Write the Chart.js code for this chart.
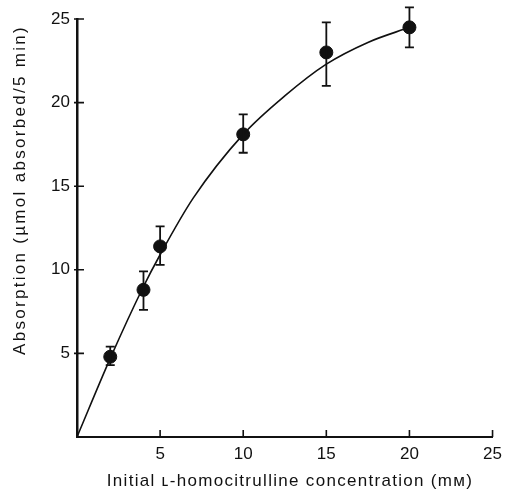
<!DOCTYPE html>
<html lang="en">
<head>
  <meta charset="UTF-8">
  <title>Absorption vs L-homocitrulline</title>

  <!-- Chart.js -->
  <script src="https://cdn.jsdelivr.net/npm/chart.js"></script>

  <style>
    * {
      margin: 0;
      padding: 0;
    }

    body {
      background: #fff;
    }

    canvas {
      display: block;
    }
  </style>
</head>

<body>
  <canvas id="absChart" width="509" height="497"></canvas>

  <script>
    // measured points (mM, umol absorbed / 5 min) with error bar ends
    const concentrations = [2, 4, 5, 10, 15, 20];
    const absorption = [4.8, 8.8, 11.4, 18.1, 23.0, 24.5];
    const errLow = [4.3, 7.6, 10.3, 17.0, 21.0, 23.3];
    const errHigh = [5.4, 9.9, 12.6, 19.3, 24.8, 25.7];

    // fitted curve
    const curveX = [0, 2, 4, 5, 7, 10, 12.5, 15, 17.5, 20];
    const curveY = [0, 4.7, 9.0, 10.9, 14.3, 18.1, 20.4, 22.3, 23.6, 24.5];

    const tickValues = [5, 10, 15, 20, 25];

    const xTitle = 'Initial \u029F-homocitrulline concentration (m\u1D0D)';
    const yTitle = 'Absorption (\u00B5mol absorbed/5 min)';

    const ink = '#111';

    // error bars, inward tick marks and axis titles
    const extras = {
      id: 'extras',
      afterDraw(chart) {
        const { ctx, scales: { x, y } } = chart;
        ctx.save();
        ctx.strokeStyle = ink;

        ctx.lineWidth = 1.8;
        ctx.beginPath();
        concentrations.forEach((c, i) => {
          const px = x.getPixelForValue(c);
          const top = y.getPixelForValue(errHigh[i]);
          const bot = y.getPixelForValue(errLow[i]);
          ctx.moveTo(px, top); ctx.lineTo(px, bot);
          ctx.moveTo(px - 4.5, top); ctx.lineTo(px + 4.5, top);
          ctx.moveTo(px - 4.5, bot); ctx.lineTo(px + 4.5, bot);
        });
        ctx.stroke();

        ctx.lineWidth = 1.6;
        ctx.beginPath();
        tickValues.forEach(v => {
          const px = x.getPixelForValue(v);
          ctx.moveTo(px, x.top); ctx.lineTo(px, x.top - 7);
          const py = y.getPixelForValue(v);
          ctx.moveTo(y.right - 3, py); ctx.lineTo(y.right + 7, py);
        });
        ctx.stroke();

        ctx.fillStyle = ink;
        ctx.font = '17px "Liberation Sans", Arial, sans-serif';
        ctx.textAlign = 'center';
        ctx.textBaseline = 'middle';

        ctx.letterSpacing = '1.3px';
        ctx.fillText(xTitle, 290, 481);

        ctx.letterSpacing = '2.3px';
        ctx.translate(20, 190);
        ctx.rotate(-Math.PI / 2);
        ctx.fillText(yTitle, 0, 0);
        ctx.restore();
      }
    };

    const ctx = document.getElementById('absChart').getContext('2d');
    const absChart = new Chart(ctx, {
      data: {
        datasets: [{
          type: 'line',
          data: curveX.map((v, i) => ({ x: v, y: curveY[i] })),
          borderColor: ink,
          borderWidth: 1.6,
          pointRadius: 0,
          cubicInterpolationMode: 'monotone',
          fill: false
        }, {
          type: 'scatter',
          data: concentrations.map((v, i) => ({ x: v, y: absorption[i] })),
          backgroundColor: ink,
          borderColor: ink,
          pointRadius: 6.5,
          pointHoverRadius: 6.5
        }]
      },
      plugins: [extras],
      options: {
        responsive: false,
        animation: false,
        events: [],
        layout: { padding: { top: 19, right: 13, left: 0, bottom: 0 } },
        plugins: {
          legend: { display: false },
          tooltip: { enabled: false }
        },
        scales: {
          x: {
            type: 'linear',
            min: 0,
            max: 25,
            afterBuildTicks: scale => { scale.ticks = tickValues.map(v => ({ value: v })); },
            afterFit: scale => { scale.height = 60; },
            grid: { display: false, drawTicks: false },
            border: { color: ink, width: 2 },
            ticks: {
              color: ink,
              padding: 7,
              maxRotation: 0,
              font: { family: '"Liberation Sans", Arial, sans-serif', size: 17 }
            }
          },
          y: {
            type: 'linear',
            min: 0,
            max: 25,
            afterBuildTicks: scale => { scale.ticks = tickValues.map(v => ({ value: v })); },
            afterFit: scale => { scale.width = 77; },
            grid: { display: false, drawTicks: false },
            border: { color: ink, width: 2.5 },
            ticks: {
              color: ink,
              padding: 7,
              font: { family: '"Liberation Sans", Arial, sans-serif', size: 17 }
            }
          }
        }
      }
    });
  </script>
</body>
</html>
